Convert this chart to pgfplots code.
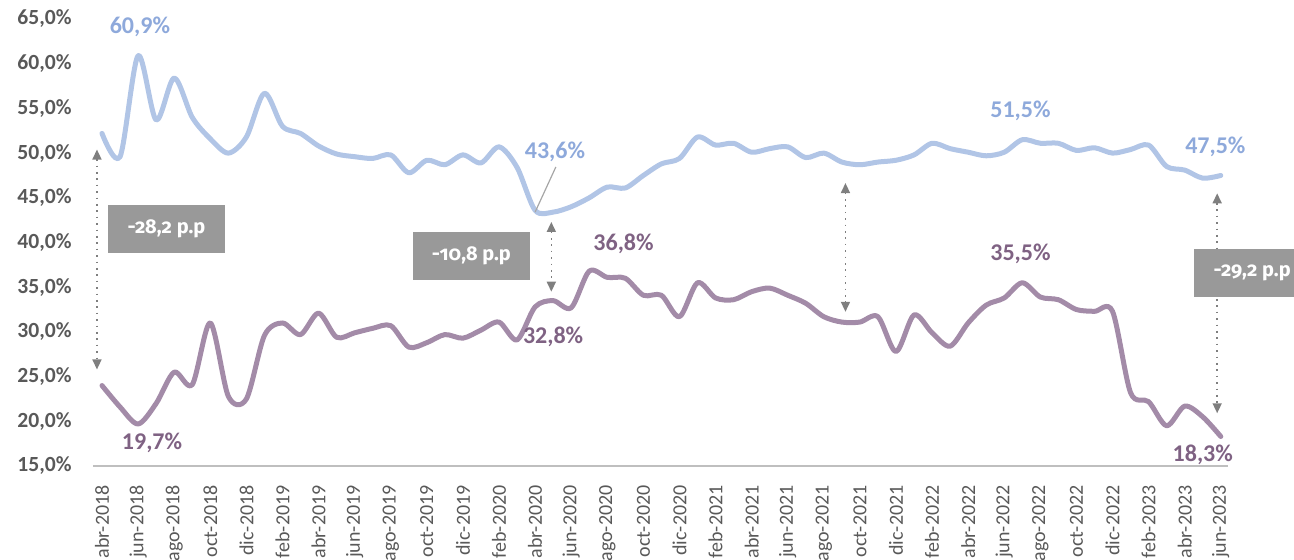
\documentclass[border=0pt]{standalone}
\usepackage{fontspec}
\setmainfont{Carlito}
\newfontfamily\boxfont{Fira Sans}[Numbers=OldStyle]
\usepackage{pgfplots}
\pgfplotsset{compat=1.18}
\usepackage{pgfplotstable}
\usetikzlibrary{arrows.meta}
\definecolor{blueL}{HTML}{B1C5E6}
\definecolor{blueT}{HTML}{8EA9DB}
\definecolor{purL}{HTML}{A38BA8}
\definecolor{purT}{HTML}{7F6283}
\definecolor{tickc}{HTML}{595959}
\definecolor{boxc}{HTML}{999999}
\definecolor{arrc}{HTML}{7F7F7F}
\definecolor{basec}{HTML}{BFBFBF}

\pgfplotstableread{
i b p
0 52.2 24.0
1 49.6 21.6
2 60.9 19.7
3 53.7 22.0
4 58.4 25.5
5 54.0 24.1
6 51.6 31.0
7 50.0 22.8
8 51.8 22.5
9 56.7 29.6
10 53.0 31.0
11 52.2 29.7
12 50.8 32.1
13 49.9 29.4
14 49.6 29.9
15 49.4 30.4
16 49.8 30.7
17 47.8 28.3
18 49.2 28.8
19 48.7 29.7
20 49.8 29.3
21 48.9 30.2
22 50.7 31.1
23 48.4 29.1
24 43.6 32.8
25 43.4 33.5
26 44.0 32.7
27 45.0 36.8
28 46.2 36.1
29 46.1 36.0
30 47.5 34.1
31 48.8 34.1
32 49.4 31.7
33 51.8 35.5
34 50.9 33.8
35 51.1 33.6
36 50.1 34.5
37 50.5 34.9
38 50.7 34.1
39 49.5 33.2
40 50.0 31.7
41 49.0 31.1
42 48.7 31.1
43 49.0 31.7
44 49.2 27.8
45 49.8 31.9
46 51.1 29.9
47 50.5 28.4
48 50.1 31.0
49 49.7 33.0
50 50.1 33.8
51 51.5 35.5
52 51.1 33.9
53 51.1 33.6
54 50.3 32.5
55 50.6 32.3
56 50.0 32.3
57 50.4 23.2
58 50.9 22.2
59 48.5 19.5
60 48.1 21.7
61 47.2 20.5
62 47.5 18.3
}\data

\begin{document}
\begin{tikzpicture}
\clip (0,0) rectangle (647pt,279.5pt);
\begin{axis}[
  at={(46.5pt,46.5pt)}, anchor=south west,
  scale only axis, width=567.5pt, height=223.5pt,
  xmin=-0.5, xmax=62.4, ymin=15, ymax=65,
  clip=false,
  axis line style={draw=none},
  tick style={draw=none},
  xtick={0,2,...,62},
  xticklabels={abr-2018,jun-2018,ago-2018,oct-2018,dic-2018,
    feb-2019,abr-2019,jun-2019,ago-2019,oct-2019,dic-2019,
    feb-2020,abr-2020,jun-2020,ago-2020,oct-2020,dic-2020,
    feb-2021,abr-2021,jun-2021,ago-2021,oct-2021,dic-2021,
    feb-2022,abr-2022,jun-2022,ago-2022,oct-2022,dic-2022,
    feb-2023,abr-2023,jun-2023},
  xticklabel style={rotate=90, anchor=east, inner sep=0pt,
    font=\fontsize{10}{12}\selectfont, text=tickc},
  xticklabel shift=9.5pt,
  ytick={15,20,...,65},
  yticklabels={{15,0\%},{20,0\%},{25,0\%},{30,0\%},{35,0\%},{40,0\%},{45,0\%},{50,0\%},{55,0\%},{60,0\%},{65,0\%}},
  yticklabel style={anchor=east, inner sep=0pt,
    font=\bfseries\fontsize{10.8}{13}\selectfont, text=tickc},
  yticklabel shift=10.5pt,
]
\draw[basec, line width=1pt] (axis cs:-0.5,15) -- (axis cs:62.4,15);

\addplot[purL, line width=2.5pt, smooth, tension=0.5, line join=round, line cap=round, mark=none] table[x=i,y=p]{\data};
\addplot[blueL, line width=2.5pt, smooth, tension=0.5, line join=round, line cap=round, mark=none] table[x=i,y=b]{\data};

% difference arrows
\tikzset{diffarr/.style={arrc, line width=0.8pt, dash pattern=on 0.8pt off 2.4pt,
  {Triangle[width=4.5pt,length=5pt]}-{Triangle[width=4.5pt,length=5pt]}}}
\draw[diffarr] (axis cs:-0.28,50.4) -- (axis cs:-0.28,25.8);
\draw[diffarr] (axis cs:24.9,42.3) -- (axis cs:24.9,34.5);
\draw[diffarr] (axis cs:41.2,46.65) -- (axis cs:41.2,32.25);
\draw[diffarr] (axis cs:61.8,45.5) -- (axis cs:61.8,20.9);

% boxes
\tikzset{dbox/.style={fill=boxc, minimum width=58.5pt, minimum height=24pt, inner sep=0pt,
  text=white, font=\boxfont\bfseries\fontsize{10}{12}\selectfont}}
\node[dbox] at (axis cs:3.57,41.5) {-28,2 p.p};
\node[dbox] at (axis cs:20.47,38.49) {-10,8 p.p};
\node[dbox] at (axis cs:63.74,36.64) {-29,2 p.p};

% leader line
\draw[gray!70, line width=0.6pt] (axis cs:24.0,43.4) -- (axis cs:25.15,48.45);

% data labels
\tikzset{bl/.style={text=blueT, font=\bfseries\fontsize{12}{14}\selectfont, inner sep=0pt},
         pl/.style={text=purT, font=\bfseries\fontsize{12}{14}\selectfont, inner sep=0pt}}
\node[bl] at (axis cs:2.1,64.1) {60,9\%};
\node[bl] at (axis cs:25.1,50.1) {43,6\%};
\node[bl] at (axis cs:50.9,54.7) {51,5\%};
\node[bl] at (axis cs:61.7,50.7) {47,5\%};
\node[pl] at (axis cs:2.77,17.6) {19,7\%};
\node[pl] at (axis cs:25.0,29.4) {32,8\%};
\node[pl] at (axis cs:28.9,39.8) {36,8\%};
\node[pl] at (axis cs:50.9,38.7) {35,5\%};
\node[pl] at (axis cs:61.0,16.3) {18,3\%};
\end{axis}
\end{tikzpicture}
\end{document}
